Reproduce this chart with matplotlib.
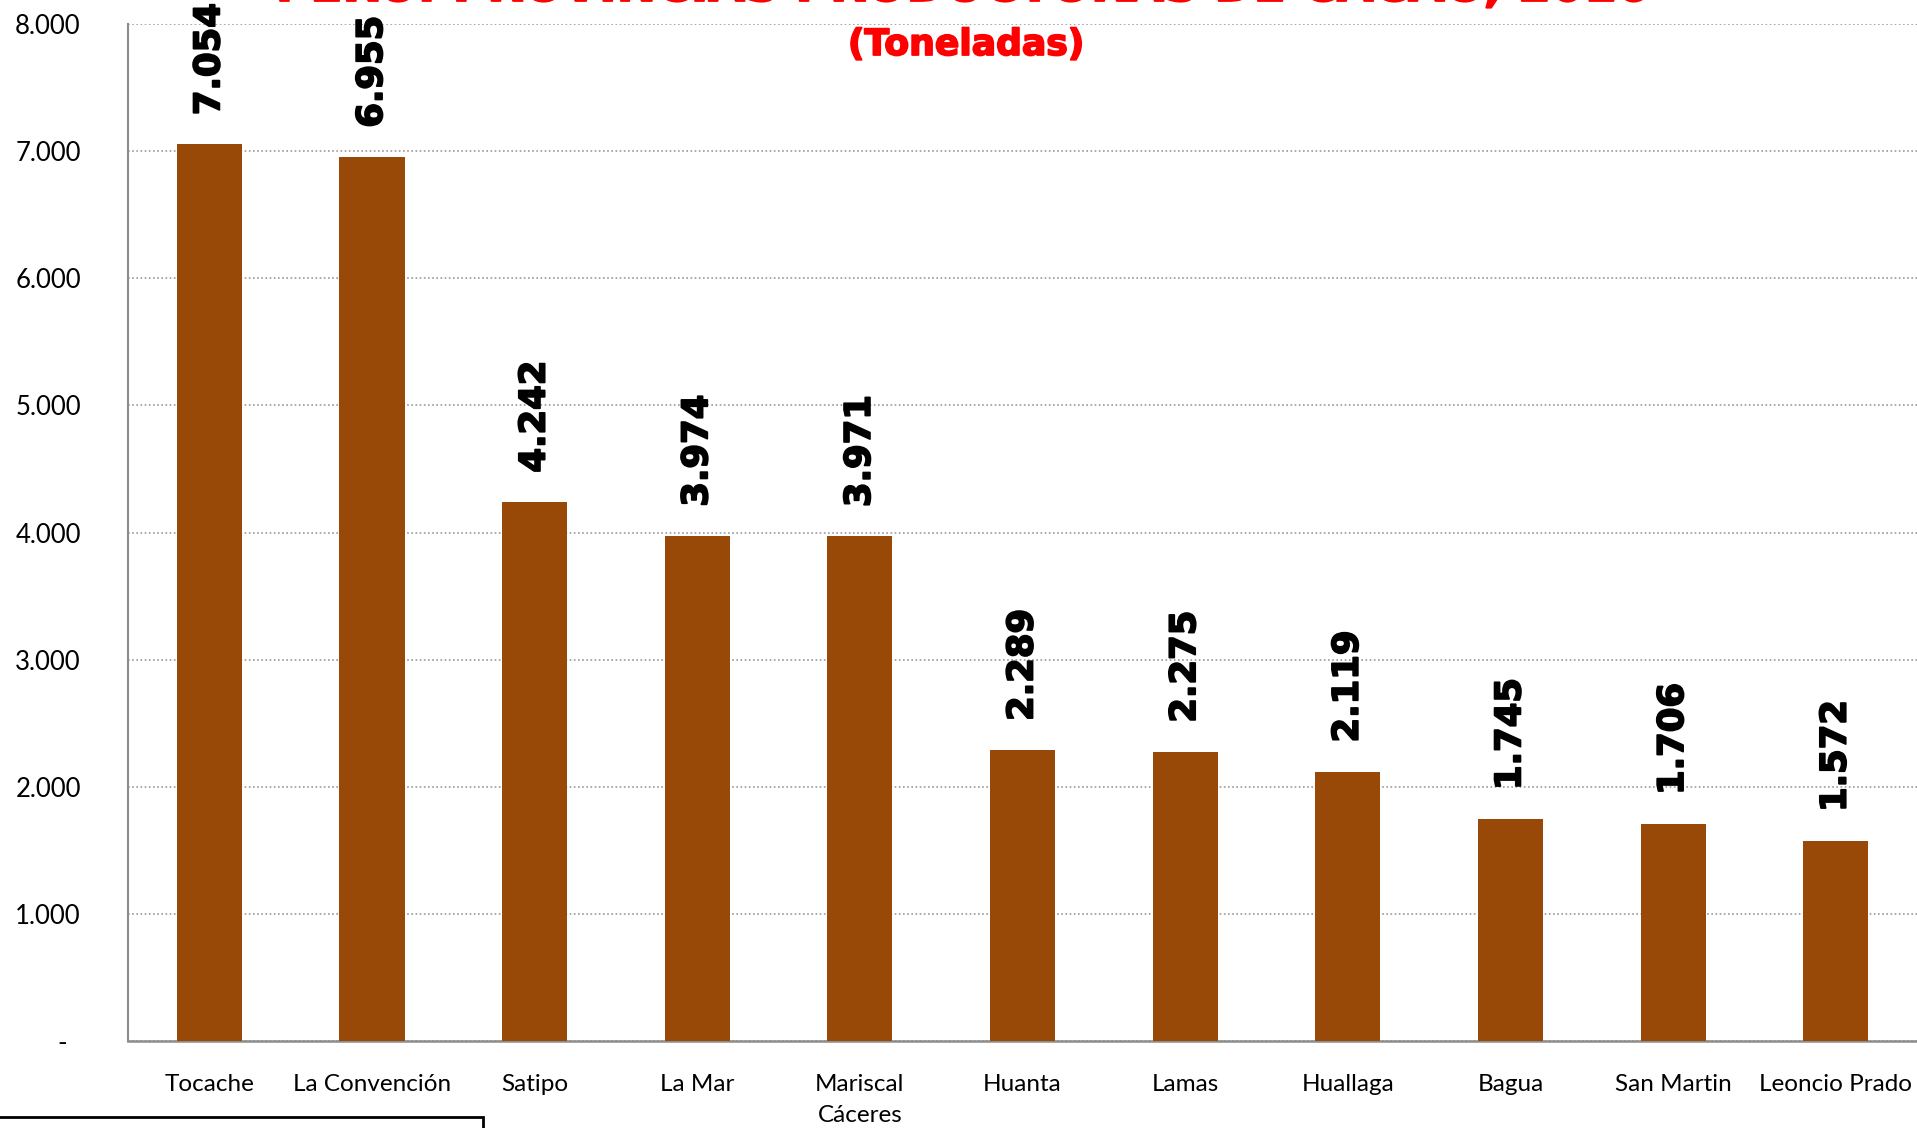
import matplotlib.pyplot as plt
import matplotlib.patheffects as pe
from matplotlib.patches import Rectangle

# Datos: principales provincias productoras de cacao (toneladas)
provincias = ["Tocache", "La Convención", "Satipo", "La Mar", "Mariscal\nCáceres",
              "Huanta", "Lamas", "Huallaga", "Bagua", "San Martin", "Leoncio Prado"]
toneladas = [7054, 6955, 4242, 3974, 3971, 2289, 2275, 2119, 1745, 1706, 1572]

y_ticks = [0, 1000, 2000, 3000, 4000, 5000, 6000, 7000, 8000]
y_labels = ["-  ", "1.000", "2.000", "3.000", "4.000", "5.000", "6.000", "7.000", "8.000"]

color_barra = "#984807"
color_gris = "#8c8c8c"

fig = plt.figure(figsize=(19.17, 11.28), dpi=100)
ax = fig.add_axes([0.0668, 0.0771, 0.9332, 0.9016])

x = range(len(provincias))
ax.bar(x, toneladas, width=0.4, color=color_barra, zorder=3)

# Etiquetas de datos, verticales y en negrita (trazo extra para imitar Arial Black)
grueso = [pe.withStroke(linewidth=1.3, foreground="black")]
for i, v in enumerate(toneladas):
    ax.annotate(f"{v:,}".replace(",", "."), (i, v), xytext=(0, 21), textcoords="offset points",
                rotation=90, ha="center", va="bottom", fontsize=25.5, fontweight="bold",
                family="DejaVu Sans", color="black", path_effects=grueso)

ax.set_xlim(-0.5, len(provincias) - 0.5)
ax.set_ylim(0, 8000)
ax.set_yticks(y_ticks)
ax.set_yticklabels(y_labels, family="Lato", fontsize=18.5)
ax.set_xticks(list(x))
ax.set_xticklabels(provincias, family="Lato", fontsize=17.5, linespacing=1.55)
ax.tick_params(axis="y", length=0, pad=34)
ax.tick_params(axis="x", length=0, pad=24)

ax.grid(axis="y", linestyle=(0, (1, 1.5)), color="#999999", linewidth=1.2, zorder=0)
ax.spines["top"].set_visible(False)
ax.spines["right"].set_visible(False)
ax.spines["left"].set_color(color_gris)
ax.spines["bottom"].set_color(color_gris)
ax.spines["left"].set_linewidth(1.5)
ax.spines["bottom"].set_linewidth(1.8)
ax.set_axisbelow(True)

# Titulo (recortado en la parte superior) y subtitulo
rojo = [pe.withStroke(linewidth=1.3, foreground="red")]
fig.text(0.503, 1 - 1 / 1128, "PERÚ: PROVINCIAS PRODUCTORAS DE CACAO, 2016", ha="center",
         va="baseline", fontsize=34, fontweight="bold", color="red", family="DejaVu Sans",
         path_effects=rojo)
fig.text(0.504, 1 - 45 / 1128, "(Toneladas)", ha="center", va="center",
         fontsize=26, fontweight="bold", color="red", family="DejaVu Sans",
         path_effects=rojo)

# Recuadro inferior izquierdo
top_caja = 1 - 1117 / 1128
fig.patches.append(Rectangle((-0.01, -0.05), 483 / 1917 + 0.01, top_caja + 0.05,
                             transform=fig.transFigure, fill=False,
                             edgecolor="black", linewidth=2))

fig.savefig("out.png", dpi=100)
